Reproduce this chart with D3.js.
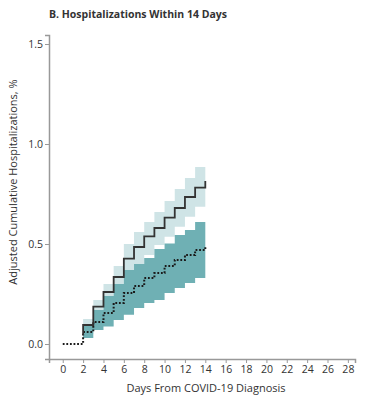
<!doctype html>
<html>
  <head>
    <style>
      body { margin: 0; background: #fff; }
      text { font-family: "Open Sans", "Noto Sans", sans-serif; }
    </style>
  </head>
  <body>
    <svg width="365" height="397" id="content"></svg>

    <script src="https://cdnjs.cloudflare.com/ajax/libs/d3/7.8.5/d3.min.js"></script>
    <script>
      // step days for the two curves
      const days = [2, 3, 4, 5, 6, 7, 8, 9, 10, 11, 12, 13, 14]
      const solidValues = [0.095, 0.187, 0.26, 0.335, 0.427, 0.485, 0.538, 0.58, 0.632, 0.68, 0.735, 0.782, 0.815]
      const dottedValues = [0.06, 0.11, 0.155, 0.205, 0.255, 0.29, 0.33, 0.355, 0.39, 0.42, 0.445, 0.47, 0.49]

      // confidence bands, one box per day interval (2-3 ... 13-14)
      const bandDays = [2, 3, 4, 5, 6, 7, 8, 9, 10, 11, 12, 13]
      const lightLow = [0.05, 0.13, 0.19, 0.26, 0.337, 0.387, 0.445, 0.495, 0.536, 0.586, 0.636, 0.686]
      const lightHigh = [0.125, 0.22, 0.30, 0.39, 0.50, 0.56, 0.61, 0.66, 0.715, 0.775, 0.83, 0.885]
      const tealLow = [0.03, 0.07, 0.088, 0.12, 0.146, 0.18, 0.205, 0.22, 0.255, 0.28, 0.305, 0.33]
      const tealHigh = [0.09, 0.17, 0.24, 0.30, 0.37, 0.40, 0.43, 0.475, 0.503, 0.545, 0.57, 0.61]

      const xTicks = d3.range(0, 29, 2)
      const yTicks = [0, 0.5, 1.0, 1.5]

      const svg = d3.select('#content')

      const x = d3.scaleLinear().domain([-1.35, 28.7]).range([49, 355])
      const y = d3.scaleLinear().domain([-0.075, 1.545]).range([359, 35])

      // title
      svg.append('text')
        .attr('x', 49)
        .attr('y', 18)
        .style('font-size', '10.5px')
        .style('font-weight', 'bold')
        .style('fill', '#333')
        .text('B. Hospitalizations Within 14 Days')

      function bandData (lo, hi) {
        const rows = bandDays.map((d, i) => ({d, lo: lo[i], hi: hi[i]}))
        const last = rows[rows.length - 1]
        rows.push({d: last.d + 1, lo: last.lo, hi: last.hi})
        return rows
      }

      const area = d3.area()
        .curve(d3.curveStepAfter)
        .x(r => x(r.d))
        .y0(r => y(r.lo))
        .y1(r => y(r.hi))

      svg.append('path')
        .datum(bandData(lightLow, lightHigh))
        .attr('d', area)
        .style('fill', '#cfe4e6')

      svg.append('path')
        .datum(bandData(tealLow, tealHigh))
        .attr('d', area)
        .style('fill', '#6fb0b4')

      const line = d3.line()
        .curve(d3.curveStepAfter)
        .x(r => x(r.d))
        .y(r => y(r.v))

      // dotted curve starts flat at 0 from day 0
      const dottedData = [{d: 0, v: 0}].concat(days.map((d, i) => ({d, v: dottedValues[i]})))
      svg.append('path')
        .datum(dottedData)
        .attr('d', line)
        .style('fill', 'none')
        .style('stroke', '#1a1a1a')
        .style('stroke-width', 2)
        .style('stroke-dasharray', '1.8,1.8')

      const solidData = [{d: 2, v: 0.045}].concat(days.map((d, i) => ({d, v: solidValues[i]})))
      svg.append('path')
        .datum(solidData)
        .attr('d', line)
        .style('fill', 'none')
        .style('stroke', '#333')
        .style('stroke-width', 1.8)

      // axes
      const xAxis = svg.append('g')
        .attr('transform', 'translate(0, 359)')
        .call(d3.axisBottom(x).tickValues(xTicks).tickSizeOuter(0).tickSize(4).tickPadding(3))

      const yAxis = svg.append('g')
        .attr('transform', 'translate(49, 0)')
        .call(d3.axisLeft(y).tickValues(yTicks).tickFormat(d3.format('.1f')).tickSizeOuter(0).tickSize(4).tickPadding(2))

      ;[xAxis, yAxis].forEach(g => {
        g.select('.domain').style('stroke', '#999').style('stroke-width', 1.5)
        g.selectAll('.tick line').style('stroke', '#999')
        g.selectAll('.tick text')
          .style('font-family', '"Open Sans", sans-serif')
          .style('font-size', '10.5px')
          .style('fill', '#333')
      })

      svg.append('text')
        .attr('x', 206)
        .attr('y', 392)
        .attr('text-anchor', 'middle')
        .style('font-size', '11px')
        .style('fill', '#333')
        .text('Days From COVID-19 Diagnosis')

      svg.append('text')
        .attr('transform', 'translate(17, 182) rotate(-90)')
        .attr('text-anchor', 'middle')
        .style('font-size', '11px')
        .style('fill', '#333')
        .text('Adjusted Cumulative Hospitalizations, %')
    </script>
  </body>
</html>
